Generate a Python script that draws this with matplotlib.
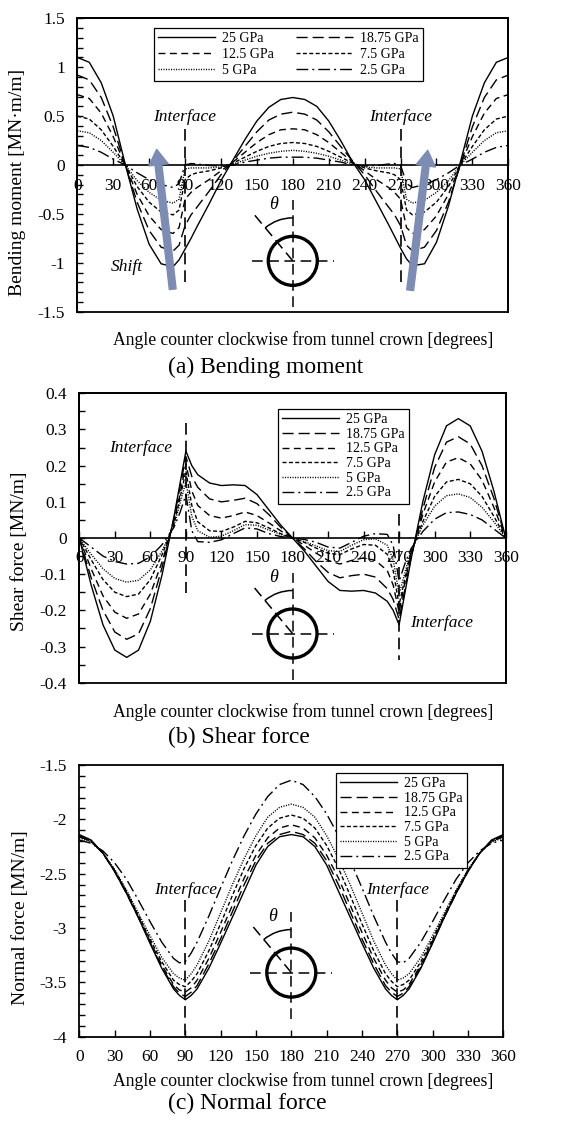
import matplotlib
matplotlib.use('Agg')
import matplotlib.pyplot as plt
from matplotlib.patches import Circle, Arc, Rectangle
from matplotlib.ticker import MultipleLocator, FuncFormatter

plt.rcParams['font.family'] = ['Liberation Serif', 'DejaVu Serif']
plt.rcParams['axes.unicode_minus'] = False

# angles [deg], counter clockwise from the crown
angle = [0, 10, 20, 30, 40, 50, 60, 70, 80, 85, 90, 95, 100, 110, 120, 130, 140, 150, 160, 170, 180,
         190, 200, 210, 220, 230, 240, 250, 260, 265, 270, 275, 280, 290, 300, 310, 320, 330, 340, 350, 360]

labels = ['25 GPa', '18.75 GPa', '12.5 GPa', '7.5 GPa', '5 GPa', '2.5 GPa']

# bending moment [MN.m/m]
m_25 = [1.10, 1.05, 0.84, 0.50, 0.01, -0.45, -0.81, -1.01, -1.04, -0.97, -0.86, -0.75, -0.63, -0.40, -0.16, 0.05, 0.26, 0.45, 0.59, 0.67, 0.69,
        0.67, 0.60, 0.45, 0.25, 0.03, -0.15, -0.38, -0.61, -0.73, -0.85, -0.96, -1.03, -1.01, -0.79, -0.42, 0.03, 0.50, 0.84, 1.05, 1.10]
m_1875 = [0.92, 0.87, 0.69, 0.39, 0.00, -0.38, -0.67, -0.84, -0.88, -0.82, -0.62, -0.51, -0.43, -0.27, -0.10, 0.04, 0.19, 0.34, 0.46, 0.52, 0.54,
          0.52, 0.46, 0.34, 0.19, 0.04, -0.10, -0.27, -0.43, -0.51, -0.62, -0.82, -0.88, -0.84, -0.67, -0.38, 0.00, 0.39, 0.69, 0.87, 0.92]
m_125 = [0.72, 0.68, 0.53, 0.29, 0.00, -0.30, -0.52, -0.66, -0.70, -0.64, -0.35, -0.28, -0.23, -0.15, -0.06, 0.03, 0.13, 0.23, 0.31, 0.36, 0.37,
         0.36, 0.31, 0.23, 0.13, 0.03, -0.06, -0.15, -0.23, -0.28, -0.35, -0.64, -0.70, -0.66, -0.52, -0.30, 0.00, 0.29, 0.53, 0.68, 0.72]
m_75 = [0.50, 0.47, 0.36, 0.19, 0.00, -0.22, -0.38, -0.48, -0.51, -0.46, -0.15, -0.10, -0.08, -0.06, -0.03, 0.02, 0.08, 0.14, 0.19, 0.22, 0.23,
        0.22, 0.19, 0.14, 0.08, 0.02, -0.03, -0.06, -0.08, -0.10, -0.15, -0.46, -0.51, -0.48, -0.38, -0.22, 0.00, 0.19, 0.36, 0.47, 0.50]
m_5 = [0.35, 0.33, 0.25, 0.13, 0.00, -0.16, -0.28, -0.36, -0.39, -0.35, -0.04, -0.03, -0.03, -0.03, -0.02, 0.01, 0.05, 0.09, 0.12, 0.14, 0.15,
       0.14, 0.12, 0.09, 0.05, 0.01, -0.02, -0.03, -0.03, -0.03, -0.04, -0.35, -0.39, -0.36, -0.28, -0.16, 0.00, 0.13, 0.25, 0.33, 0.35]
m_25b = [0.20, 0.18, 0.13, 0.06, 0.00, -0.08, -0.15, -0.20, -0.23, -0.19, 0.00, 0.015, 0.01, -0.005, -0.01, 0.00, 0.03, 0.05, 0.07, 0.08, 0.08,
         0.08, 0.07, 0.05, 0.03, 0.00, -0.01, -0.005, 0.01, 0.015, 0.00, -0.19, -0.23, -0.20, -0.15, -0.08, 0.00, 0.06, 0.13, 0.18, 0.20]

# shear force [MN/m]
v_25 = [0, -0.13, -0.24, -0.31, -0.33, -0.31, -0.23, -0.10, 0.06, 0.15, 0.24, 0.20, 0.175, 0.152, 0.145, 0.147, 0.145, 0.12, 0.078, 0.036, 0.0,
        -0.036, -0.078, -0.12, -0.145, -0.147, -0.145, -0.152, -0.175, -0.20, -0.24, -0.15, -0.06, 0.10, 0.23, 0.31, 0.33, 0.31, 0.24, 0.13, 0.0]
v_1875 = [0, -0.11, -0.20, -0.26, -0.28, -0.265, -0.195, -0.08, 0.055, 0.14, 0.225, 0.17, 0.14, 0.108, 0.100, 0.104, 0.110, 0.095, 0.065, 0.03, 0.0,
          -0.03, -0.065, -0.095, -0.110, -0.104, -0.100, -0.108, -0.14, -0.17, -0.225, -0.14, -0.055, 0.08, 0.195, 0.265, 0.28, 0.26, 0.20, 0.11, 0.0]
v_125 = [0, -0.085, -0.16, -0.205, -0.222, -0.21, -0.155, -0.065, 0.05, 0.12, 0.205, 0.13, 0.09, 0.062, 0.055, 0.062, 0.072, 0.062, 0.042, 0.02, 0.0,
         -0.02, -0.042, -0.062, -0.072, -0.062, -0.055, -0.062, -0.09, -0.13, -0.205, -0.12, -0.05, 0.065, 0.155, 0.21, 0.222, 0.205, 0.16, 0.085, 0.0]
v_75 = [0, -0.06, -0.115, -0.15, -0.162, -0.155, -0.115, -0.045, 0.04, 0.11, 0.185, 0.09, 0.045, 0.02, 0.018, 0.03, 0.046, 0.042, 0.028, 0.012, 0.0,
        -0.012, -0.028, -0.042, -0.046, -0.03, -0.018, -0.02, -0.045, -0.09, -0.185, -0.11, -0.04, 0.045, 0.115, 0.155, 0.162, 0.15, 0.115, 0.06, 0.0]
v_5 = [0, -0.045, -0.085, -0.112, -0.122, -0.117, -0.088, -0.035, 0.035, 0.095, 0.155, 0.06, 0.02, 0.002, 0.005, 0.02, 0.037, 0.035, 0.022, 0.01, 0.0,
       -0.01, -0.022, -0.035, -0.037, -0.02, -0.005, -0.002, -0.02, -0.06, -0.155, -0.095, -0.035, 0.035, 0.088, 0.117, 0.122, 0.112, 0.085, 0.045, 0.0]
v_25b = [0, -0.025, -0.05, -0.065, -0.072, -0.07, -0.052, -0.018, 0.03, 0.07, 0.12, 0.02, -0.01, -0.012, -0.005, 0.012, 0.028, 0.025, 0.012, 0.004, 0.0,
         -0.004, -0.012, -0.025, -0.028, -0.012, 0.005, 0.012, 0.01, -0.02, -0.12, -0.07, -0.03, 0.018, 0.052, 0.07, 0.072, 0.065, 0.05, 0.025, 0.0]

# normal force [MN/m]
n_25 = [-2.14, -2.19, -2.31, -2.48, -2.68, -2.90, -3.14, -3.37, -3.56, -3.62, -3.66, -3.62, -3.56, -3.37, -3.14, -2.90, -2.66, -2.42, -2.25, -2.16, -2.14,
        -2.16, -2.25, -2.42, -2.66, -2.90, -3.14, -3.37, -3.56, -3.62, -3.66, -3.62, -3.56, -3.37, -3.14, -2.90, -2.68, -2.48, -2.31, -2.19, -2.14]
n_1875 = [-2.15, -2.20, -2.31, -2.48, -2.68, -2.90, -3.13, -3.36, -3.54, -3.60, -3.63, -3.59, -3.53, -3.33, -3.10, -2.85, -2.60, -2.38, -2.22, -2.14, -2.11,
          -2.14, -2.22, -2.38, -2.60, -2.85, -3.10, -3.33, -3.53, -3.59, -3.63, -3.60, -3.54, -3.36, -3.13, -2.90, -2.68, -2.48, -2.31, -2.20, -2.15]
n_125 = [-2.16, -2.20, -2.31, -2.47, -2.67, -2.89, -3.12, -3.34, -3.52, -3.57, -3.59, -3.55, -3.48, -3.28, -3.04, -2.79, -2.54, -2.33, -2.17, -2.08, -2.05,
         -2.08, -2.17, -2.33, -2.54, -2.79, -3.04, -3.28, -3.48, -3.55, -3.59, -3.57, -3.52, -3.34, -3.12, -2.89, -2.67, -2.47, -2.31, -2.20, -2.16]
n_75 = [-2.16, -2.20, -2.31, -2.47, -2.66, -2.88, -3.10, -3.31, -3.48, -3.52, -3.54, -3.49, -3.42, -3.21, -2.96, -2.70, -2.45, -2.24, -2.08, -1.99, -1.96,
        -1.99, -2.08, -2.24, -2.45, -2.70, -2.96, -3.21, -3.42, -3.49, -3.54, -3.52, -3.48, -3.31, -3.10, -2.88, -2.66, -2.47, -2.31, -2.20, -2.16]
n_5 = [-2.17, -2.21, -2.31, -2.46, -2.65, -2.86, -3.07, -3.27, -3.42, -3.46, -3.48, -3.42, -3.34, -3.12, -2.86, -2.60, -2.36, -2.15, -1.98, -1.89, -1.86,
       -1.89, -1.98, -2.15, -2.36, -2.60, -2.86, -3.12, -3.34, -3.42, -3.48, -3.46, -3.42, -3.27, -3.07, -2.86, -2.65, -2.46, -2.31, -2.21, -2.17]
n_25b = [-2.19, -2.22, -2.29, -2.40, -2.55, -2.74, -2.94, -3.13, -3.28, -3.32, -3.31, -3.23, -3.13, -2.89, -2.63, -2.38, -2.15, -1.95, -1.79, -1.68, -1.64,
         -1.68, -1.79, -1.95, -2.15, -2.38, -2.63, -2.89, -3.13, -3.23, -3.31, -3.32, -3.28, -3.13, -2.94, -2.74, -2.55, -2.40, -2.29, -2.22, -2.19]

xticks = list(range(0, 361, 30))

styles = ['-', (0, (8, 3.6)), (0, (5, 3.2)), (0, (2.9, 1.7)), (0, (0.8, 1.0)), (0, (8.5, 2.9, 1.4, 2.9))]
dash = (0, (7, 3.6))

W, H = 587, 1121
fig = plt.figure(figsize=(W / 100, H / 100), dpi=100)


def px_rect(l, t, r, b):
    return [l / W, 1 - b / H, (r - l) / W, (b - t) / H]


def fmt(v, pos):
    return '%g' % round(v, 3)


def setup(ax, ylim, major, minor, zero_axis):
    ax.set_xlim(0, 360)
    ax.set_ylim(*ylim)
    ax.set_xticks(xticks)
    ax.yaxis.set_major_locator(MultipleLocator(major))
    ax.yaxis.set_minor_locator(MultipleLocator(minor))
    ax.yaxis.set_major_formatter(FuncFormatter(fmt))
    ax.tick_params(axis='y', which='both', direction='in', length=4, width=1, labelsize=12.5, pad=9)
    ax.tick_params(axis='x', direction='in', length=5, width=1, labelsize=12.5, pad=9)
    for s in ax.spines.values():
        s.set_linewidth(1.3)
    if zero_axis:
        ax.spines['bottom'].set_position(('data', 0))
        ax.spines['bottom'].set_linewidth(1.2)
        ax.add_patch(Rectangle((0, 0), 1, 1, transform=ax.transAxes, fill=False,
                               ec='k', lw=1.3, clip_on=False, zorder=3))


def draw_lines(ax, series):
    hs = []
    for y, ls, lab in zip(series, styles, labels):
        h, = ax.plot(angle, y, color='k', lw=1.0, ls=ls, label=lab)
        hs.append(h)
    return hs


def diagram(ax, yc):
    x0, y0 = fig.transFigure.inverted().transform(ax.transData.transform((180, yc)))
    d = fig.add_axes([x0 - 75 / W, y0 - 75 / H, 150 / W, 150 / H])
    d.set_xlim(-75, 75)
    d.set_ylim(-75, 75)
    d.axis('off')
    d.plot([-41, 41], [0, 0], color='k', lw=1.1, ls=dash)
    d.plot([0, 0], [-46, 61], color='k', lw=1.1, ls=dash)
    d.plot([0, -40], [0, 48], color='k', lw=1.1, ls=dash)
    d.add_patch(Circle((0, 0), 24.5, fill=False, ec='k', lw=2.4))
    d.add_patch(Arc((0, 0), 86, 86, theta1=90, theta2=130, color='k', lw=1.1))
    d.text(-19, 56, 'θ', style='italic', fontsize=13, ha='center', va='center')


def legend(ax, hs, x, y, ncol=1):
    leg = ax.legend(hs, [h.get_label() for h in hs], ncol=ncol, loc='upper left',
                    bbox_to_anchor=(x / W, 1 - y / H), bbox_transform=fig.transFigure,
                    borderaxespad=0, fontsize=10, handlelength=4.1, handletextpad=0.5,
                    columnspacing=1.6, labelspacing=0.12 if ncol == 1 else 0.22,
                    borderpad=0.3, fancybox=False, edgecolor='k', framealpha=1)
    leg.get_frame().set_linewidth(0.9)


def texts(xl_y, sub_y, yl_x, yl_y, ylabel, sub):
    fig.text(303 / W, 1 - xl_y / H, 'Angle counter clockwise from tunnel crown [degrees]',
             fontsize=12.7, ha='center', va='center')
    fig.text(168 / W, 1 - sub_y / H, sub, fontsize=17, ha='left', va='center')
    fig.text(yl_x / W, 1 - yl_y / H, ylabel, fontsize=14, rotation=90, ha='center', va='center')


# (a) bending moment
ax_a = fig.add_axes(px_rect(77.3, 18.3, 508.3, 311.7))
setup(ax_a, (-1.5, 1.5), 0.5, 0.1, True)
ha = draw_lines(ax_a, [m_25, m_1875, m_125, m_75, m_5, m_25b])
for xv in (90, 270):
    ax_a.plot([xv, xv], [0.37, -1.23], color='k', lw=1.2, ls=dash)
    ax_a.text(xv, 0.49, 'Interface', style='italic', fontsize=12.5, ha='center', va='center')
ax_a.text(41, -1.04, 'Shift', style='italic', fontsize=12.5, ha='center', va='center')
arrow = dict(arrowstyle='simple,head_length=0.8,head_width=1.0,tail_width=0.35',
             color='#7D8CB4', shrinkA=0, shrinkB=0, mutation_scale=14)
ax_a.annotate('', xy=(66.3, 0.16), xytext=(79.7, -1.27), arrowprops=arrow, zorder=5)
ax_a.annotate('', xy=(292.7, 0.15), xytext=(278.0, -1.28), arrowprops=arrow, zorder=5)
legend(ax_a, [ha[0], ha[2], ha[4], ha[1], ha[3], ha[5]], 154, 28, ncol=2)
texts(340, 367, 17.5, 182, 'Bending moment [MN·m/m]', '(a) Bending moment')
diagram(ax_a, -0.98)

# (b) shear force
ax_b = fig.add_axes(px_rect(79.3, 393.3, 505.7, 682.7))
setup(ax_b, (-0.4, 0.4), 0.1, 0.05, True)
hb = draw_lines(ax_b, [v_25, v_1875, v_125, v_75, v_5, v_25b])
ax_b.plot([90, 90], [0.317, -0.151], color='k', lw=1.2, ls=dash)
ax_b.plot([270, 270], [0.065, -0.337], color='k', lw=1.2, ls=dash)
ax_b.text(51.5, 0.25, 'Interface', style='italic', fontsize=12.5, ha='center', va='center')
ax_b.text(306, -0.236, 'Interface', style='italic', fontsize=12.5, ha='center', va='center')
legend(ax_b, hb, 278, 409)
texts(711.7, 737.7, 20, 551, 'Shear force [MN/m]', '(b) Shear force')
diagram(ax_b, -0.264)

# (c) normal force
ax_c = fig.add_axes(px_rect(79.3, 765, 503.3, 1036.7))
setup(ax_c, (-4, -1.5), 0.5, 0.1, False)
hc = draw_lines(ax_c, [n_25, n_1875, n_125, n_75, n_5, n_25b])
for xv in (90, 270):
    ax_c.plot([xv, xv], [-2.74, -4.0], color='k', lw=1.2, ls=dash)
    ax_c.text(xv + 0.5, -2.65, 'Interface', style='italic', fontsize=12.5, ha='center', va='center')
legend(ax_c, hc, 336, 773)
texts(1080.7, 1103.3, 20.5, 918, 'Normal force [MN/m]', '(c) Normal force')
diagram(ax_c, -3.41)

fig.savefig('out.png', dpi=100)
